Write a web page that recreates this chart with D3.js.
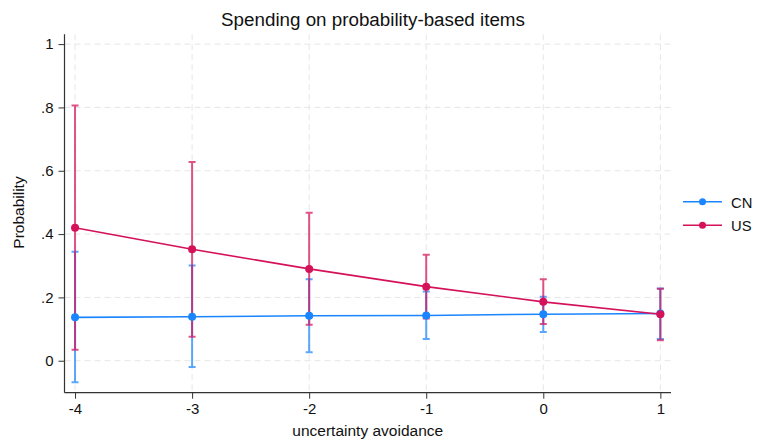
<!DOCTYPE html>
<html>
<head>
<meta charset="utf-8">
<script src="https://cdn.jsdelivr.net/npm/d3@7/dist/d3.min.js"></script>
<style>
  html, body { margin: 0; padding: 0; background: #fff; }
  svg { display: block; font-family: "Liberation Sans", Arial, Helvetica, sans-serif; }
</style>
</head>
<body>
<svg id="chart" width="758" height="442"></svg>
<script>
// Predicted probability by uncertainty avoidance, with 95% CIs
const xValues = [-4, -3, -2, -1, 0, 1];
const seriesNames = ["CN", "US"];
const cnMean  = [0.137, 0.139, 0.142, 0.143, 0.147, 0.149];
const cnLower = [-0.068, -0.020, 0.027, 0.069, 0.091, 0.069];
const cnUpper = [0.344, 0.301, 0.257, 0.219, 0.202, 0.228];
const usMean  = [0.420, 0.352, 0.290, 0.234, 0.186, 0.147];
const usLower = [0.035, 0.076, 0.114, 0.133, 0.116, 0.065];
const usUpper = [0.806, 0.628, 0.467, 0.335, 0.257, 0.227];
const yTicks = [0, 0.2, 0.4, 0.6, 0.8, 1];
const yTickLabels = ["0", ".2", ".4", ".6", ".8", "1"];
const xTickLabels = ["-4", "-3", "-2", "-1", "0", "1"];
const colors = { CN: "#1a85ff", US: "#d41159" };

const series = [
  { name: "CN", mean: cnMean, lo: cnLower, hi: cnUpper },
  { name: "US", mean: usMean, lo: usLower, hi: usUpper }
];

const svg = d3.select("#chart");
const plot = { left: 64.5, right: 671, top: 34.3, bottom: 392.7 };

const x = d3.scaleLinear().domain([-4.09, 1.091]).range([plot.left, plot.right]);
const y = d3.scaleLinear().domain([-0.101, 1.031]).range([plot.bottom, plot.top]);

// grid
const grid = svg.append("g").attr("stroke", "#e6e6e6").attr("stroke-width", 1)
  .attr("stroke-dasharray", "6,4").attr("fill", "none");
grid.selectAll("line.h").data(yTicks).join("line").attr("class", "h")
  .attr("x1", plot.left).attr("x2", plot.right)
  .attr("y1", d => y(d)).attr("y2", d => y(d));
grid.selectAll("line.v").data(xValues).join("line").attr("class", "v")
  .attr("x1", d => x(d)).attr("x2", d => x(d))
  .attr("y1", plot.top).attr("y2", plot.bottom);

// axes
const yAxis = d3.axisLeft(y).tickValues(yTicks)
  .tickFormat((d, i) => yTickLabels[i]).tickSize(6).tickPadding(5).tickSizeOuter(0);
const gy = svg.append("g").attr("transform", `translate(${plot.left},0)`).call(yAxis);
gy.select(".domain").attr("d", `M0,${plot.top}V${plot.bottom}`);

const xAxis = d3.axisBottom(x).tickValues(xValues)
  .tickFormat((d, i) => xTickLabels[i]).tickSize(6).tickPadding(5).tickSizeOuter(0);
const gx = svg.append("g").attr("transform", `translate(0,${plot.bottom})`).call(xAxis);
gx.select(".domain").attr("d", `M${plot.left},0H${plot.right}`);

[gx, gy].forEach(g => {
  g.select(".domain").attr("stroke", "#333").attr("stroke-width", 1.2);
  g.selectAll(".tick line").attr("stroke", "#333");
  g.selectAll(".tick text").attr("fill", "#111").style("font-size", "15px")
    .style("font-family", "'Liberation Sans', Arial, sans-serif");
});

// confidence intervals
const cap = 3.5;
series.forEach(s => {
  const g = svg.append("g").attr("stroke", colors[s.name]).attr("stroke-opacity", 0.72)
    .attr("stroke-width", 2).attr("fill", "none");
  const path = xValues.map((v, i) => {
    const xi = x(v), yl = y(s.lo[i]), yh = y(s.hi[i]);
    return `M${xi},${yl}V${yh}M${xi - cap},${yh}H${xi + cap}M${xi - cap},${yl}H${xi + cap}`;
  }).join("");
  g.append("path").attr("d", path);
});

// lines and markers
const line = d3.line().x(d => x(d[0])).y(d => y(d[1]));
series.forEach(s => {
  const pts = xValues.map((v, i) => [v, s.mean[i]]);
  svg.append("path").datum(pts).attr("d", line)
    .attr("fill", "none").attr("stroke", colors[s.name]).attr("stroke-width", 1.6);
  svg.append("g").selectAll("circle").data(pts).join("circle")
    .attr("cx", d => x(d[0])).attr("cy", d => y(d[1])).attr("r", 4)
    .attr("fill", colors[s.name]);
});

// titles
svg.append("text").attr("x", 373).attr("y", 26).attr("text-anchor", "middle")
  .style("font-size", "18.8px").attr("fill", "#111").text("Spending on probability-based items");
svg.append("text").attr("x", (plot.left + plot.right) / 2).attr("y", 436).attr("text-anchor", "middle")
  .style("font-size", "15.5px").attr("fill", "#111").text("uncertainty avoidance");
svg.append("text").attr("transform", `translate(24,${(plot.top + plot.bottom) / 2 - 1}) rotate(-90)`)
  .attr("text-anchor", "middle").style("font-size", "15.5px").attr("fill", "#111").text("Probability");

// legend
const legend = svg.append("g");
seriesNames.forEach((n, i) => {
  const ly = 201.7 + i * 23.6;
  legend.append("line").attr("x1", 683).attr("x2", 722).attr("y1", ly).attr("y2", ly)
    .attr("stroke", colors[n]).attr("stroke-width", 1.6);
  legend.append("circle").attr("cx", 702.5).attr("cy", ly).attr("r", 3.5).attr("fill", colors[n]);
  legend.append("text").attr("x", 731).attr("y", ly + 5.8).style("font-size", "14.8px")
    .attr("fill", "#111").text(n);
});
</script>
</body>
</html>
